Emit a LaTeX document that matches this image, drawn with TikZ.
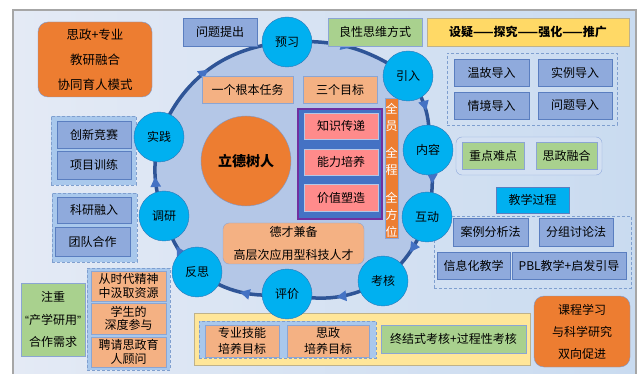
\documentclass[tikz,border=0pt]{standalone}
\usepackage{fontspec}
\setmainfont{Noto Sans CJK SC}
\newfontfamily\quotefont{Liberation Sans}
\usetikzlibrary{arrows.meta,decorations.markings}
\definecolor{ringdark}{HTML}{2F5597}
\definecolor{ringtip}{HTML}{4472C4}
\definecolor{ringfill}{HTML}{B4C7E7}
\definecolor{cyanfill}{HTML}{00B0F0}
\definecolor{cyanedge}{HTML}{2E75B6}
\definecolor{orangefill}{HTML}{ED7D31}
\definecolor{peach}{HTML}{F4B183}
\definecolor{pinkfill}{HTML}{FF8B8B}
\definecolor{bluebox}{HTML}{8FAADC}
\definecolor{blueedge}{HTML}{5A7EC0}
\definecolor{greenfill}{HTML}{A9D18E}
\definecolor{goldfill}{HTML}{FFD966}
\definecolor{paleyellow}{HTML}{FFE699}
\definecolor{yellowedge}{HTML}{BFB28A}
\definecolor{groupfill}{HTML}{A9C8EC}
\definecolor{lightgroup}{HTML}{D3E0F2}
\definecolor{dashedge}{HTML}{7F9FCF}
\definecolor{purpleedge}{HTML}{7030A0}
\definecolor{blockblue}{HTML}{4472C4}
\definecolor{framegray}{HTML}{A6A6A6}
\definecolor{bgleft}{HTML}{E4EAF5}
\definecolor{bgright}{HTML}{C9DBF0}
\pgfdeclarelayer{background}
\pgfsetlayers{background,main}

\begin{document}
\begin{tikzpicture}[x=1pt,y=-1pt,
	every node/.style={font=\fontsize{12}{14}\selectfont, inner sep=0pt, align=center},
	sz/.style 2 args={minimum width=#1pt, minimum height=#2pt},
	stage/.style={circle, fill=cyanfill, draw=cyanedge, minimum size=50pt},
	boxB/.style={rectangle, fill=bluebox, draw=blueedge},
	boxG/.style={rectangle, fill=greenfill, draw=blueedge!70},
	boxP/.style={rectangle, fill=peach, draw=blueedge!70},
	boxR/.style={rectangle, fill=pinkfill, draw=ringfill},
	boxY/.style={rectangle, fill=goldfill, draw=yellowedge},
	bigorange/.style={rectangle, rounded corners=10pt, fill=orangefill, draw=blueedge!80},
	groupdash/.style={rectangle, draw=dashedge, dash pattern=on 3pt off 2pt},
	ringedge/.style={draw=ringdark, line width=3.5pt, postaction={decorate},
		decoration={markings, mark=at position 0.5 with {\arrow{Triangle[length=10pt,width=10pt,color=ringtip]}}}}]
	\useasboundingbox (0,0) rectangle (640,374);
	\coordinate (cyuxi) at (287,42);
	\coordinate (cyinru) at (408,76);
	\coordinate (cneirong) at (428,150);
	\coordinate (chudong) at (427,217);
	\coordinate (ckaohe) at (383,281);
	\coordinate (cpingjia) at (287,294);
	\coordinate (cfansi) at (197,272);
	\coordinate (cdiaoyan) at (164,216);
	\coordinate (cshijian) at (159,137);

	\node[bigorange, sz={114}{75}, font=\fontsize{12.5}{25}\selectfont] (moshi) at (95,59.5) {思政+专业\\教研融合\\协同育人模式};
	\node[boxB, sz={74}{28}] (tichu) at (220,32) {问题提出};
	\node[boxG, sz={94}{28}] (siwei) at (375,32) {良性思维方式};
	\node[boxY, sz={202}{28}, font=\bfseries\fontsize{12}{14}\selectfont] (sheyi) at (528,32) {设疑——探究——强化——推广};

	\node[boxP, sz={91}{27}] (renwu) at (247.5,89.5) {一个根本任务};
	\node[boxP, sz={74}{27}] (mubiao) at (340,89.5) {三个目标};

	\node[groupdash, sz={170}{72}] (daoru) at (532,89) {};
	\node[boxB, sz={75}{27}] (wengu) at (491.5,72.5) {温故导入};
	\node[boxB, sz={74}{27}] (shili) at (575,72.5) {实例导入};
	\node[boxB, sz={75}{27}] (qingjing) at (491.5,105.5) {情境导入};
	\node[boxB, sz={74}{27}] (wenti) at (575,105.5) {问题导入};

	\node[draw=purpleedge, line width=2.5pt, fill=blockblue, sz={84}{110}] (sanmubiao) at (340,164) {};
	\node[boxR, sz={74}{26}] (zhishi) at (341,126) {知识传递};
	\node[boxR, sz={74}{26}] (nengli) at (341,162) {能力培养};
	\node[boxR, sz={74}{27}] (jiazhi) at (341,197.5) {价值塑造};

	\node[fill=orangefill, draw=blueedge!70, sz={13}{140}] (sanquan) at (391.5,168) {};
	\node[text=white, font=\fontsize{12}{17}\selectfont] (quanyuan) at (391.5,117) {全\\员};
	\node[text=white, font=\fontsize{12}{17}\selectfont] (quancheng) at (391.5,161) {全\\程};
	\node[text=white, font=\fontsize{12}{17}\selectfont] (quanfangwei) at (391.5,215) {全\\方\\位};

	\node[circle, fill=orangefill, draw=blueedge!80, minimum size=90pt, font=\bfseries\fontsize{14}{16}\selectfont] (lide) at (246,161) {立德树人};
	\node[boxP, rounded corners=6pt, sz={141}{41}, font=\fontsize{12}{23}\selectfont] (decai) at (293.5,243.5) {德才兼备\\高层次应用型科技人才};

	\node[draw=bluebox, fill=lightgroup, rounded corners=6pt, sz={146}{38}] (zhongdian) at (529,156) {};
	\node[boxG, sz={62}{27}] (nandian) at (493,155.5) {重点难点};
	\node[boxG, sz={61}{27}] (ronghe) at (566.5,155.5) {思政融合};
	\node[fill=cyanfill, draw=blueedge, sz={73}{26}] (guocheng) at (532.5,200) {教学过程};
	\node[groupdash, sz={197}{72}] (fangfa) at (532.5,252) {};
	\node[boxB, sz={75}{28}] (anli) at (490.5,232) {案例分析法};
	\node[boxB, sz={74}{28}] (fenzu) at (576,232) {分组讨论法};
	\node[boxB, sz={73}{27}] (xinxi) at (473.5,265.5) {信息化教学};
	\node[boxB, sz={114}{27}] (pbl) at (569,265.5) {PBL教学+启发引导};
	\node[bigorange, sz={96}{71}, font=\fontsize{12}{22}\selectfont] (shuangxiang) at (582,331.5) {课程学习\\与科学研究\\双向促进};

	\node[fill=paleyellow, draw=yellowedge, sz={336}{52}] (kaohekuang) at (362,339) {};
	\node[groupdash, fill=groupfill, sz={177}{37}] (peiyang) at (287.5,339.5) {};
	\node[boxP, sz={74}{32}, font=\fontsize{12}{15.5}\selectfont] (jineng) at (242,341) {专业技能\\培养目标};
	\node[boxP, sz={82}{32}, font=\fontsize{12}{15.5}\selectfont] (sizheng) at (328,341) {思政\\培养目标};
	\node[boxG, sz={145}{28}] (zhongjie) at (453.5,339) {终结式考核+过程性考核};

	\node[groupdash, fill=groupfill, sz={85}{69}] (jingsai) at (93.5,150.5) {};
	\node[boxB, sz={74}{27}] (chuangxin) at (94,134.5) {创新竞赛};
	\node[boxB, sz={74}{28}] (xiangmu) at (94,165) {项目训练};
	\node[groupdash, fill=groupfill, sz={85}{69}] (keyan) at (94.5,227.5) {};
	\node[boxB, sz={74}{26}] (rongru) at (94,210) {科研融入};
	\node[boxB, sz={75}{29}] (tuandui) at (92.5,241.5) {团队合作};
	\node[boxG, sz={64}{73}, font=\fontsize{12}{22.5}\selectfont] (xuqiu) at (53,319.5) {注重\\{\quotefont “}产学研用{\quotefont ”}\\合作需求};
	\node[groupdash, fill=groupfill, sz={83}{102}] (ziyuan) at (128.5,319) {};
	\node[boxP, sz={75}{30}, font=\fontsize{12}{13.5}\selectfont] (shidai) at (128.5,286) {从时代精神\\中汲取资源};
	\node[boxP, sz={75}{31}, font=\fontsize{12}{13.5}\selectfont] (shendu) at (128.5,318.5) {学生的\\深度参与};
	\node[boxP, sz={75}{30}, font=\fontsize{12}{13.5}\selectfont] (guwen) at (128.5,352) {聘请思政育\\人顾问};

	\node[stage] (yuxi) at (cyuxi) {预习};
	\node[stage] (yinru) at (cyinru) {引入};
	\node[stage] (neirong) at (cneirong) {内容};
	\node[stage] (hudong) at (chudong) {互动};
	\node[stage] (kaohe) at (ckaohe) {考核};
	\node[stage] (pingjia) at (cpingjia) {评价};
	\node[stage] (fansi) at (cfansi) {反思};
	\node[stage] (diaoyan) at (cdiaoyan) {调研};
	\node[stage] (shijian) at (cshijian) {实践};

	\begin{pgfonlayer}{background}
	\draw[framegray, line width=1.5pt, left color=bgleft, right color=bgright] (13,10) rectangle (636,380);
	\fill[ringfill] (yuxi.center) to[bend left=19] (yinru.center) to[bend left=22] (neirong.center) to[bend left=14] (hudong.center) to[bend left=15] (kaohe.center) to[bend left=20] (pingjia.center) to[bend left=20] (fansi.center) to[bend left=14] (diaoyan.center) to[bend left=16] (shijian.center) to[bend left=32] (yuxi.center) -- cycle;
	\draw[ringedge] (shijian.center) to[bend left=32] (yuxi.center);
	\draw[ringedge] (yuxi.center) to[bend left=19] (yinru.center);
	\draw[ringedge] (yinru.center) to[bend left=22] (neirong.center);
	\draw[ringedge] (neirong.center) to[bend left=14] (hudong.center);
	\draw[ringedge] (hudong.center) to[bend left=15] (kaohe.center);
	\draw[ringedge] (kaohe.center) to[bend left=20] (pingjia.center);
	\draw[ringedge] (pingjia.center) to[bend left=20] (fansi.center);
	\draw[ringedge] (fansi.center) to[bend left=14] (diaoyan.center);
	\draw[ringedge] (diaoyan.center) to[bend left=16] (shijian.center);
	\end{pgfonlayer}
\end{tikzpicture}
\end{document}
